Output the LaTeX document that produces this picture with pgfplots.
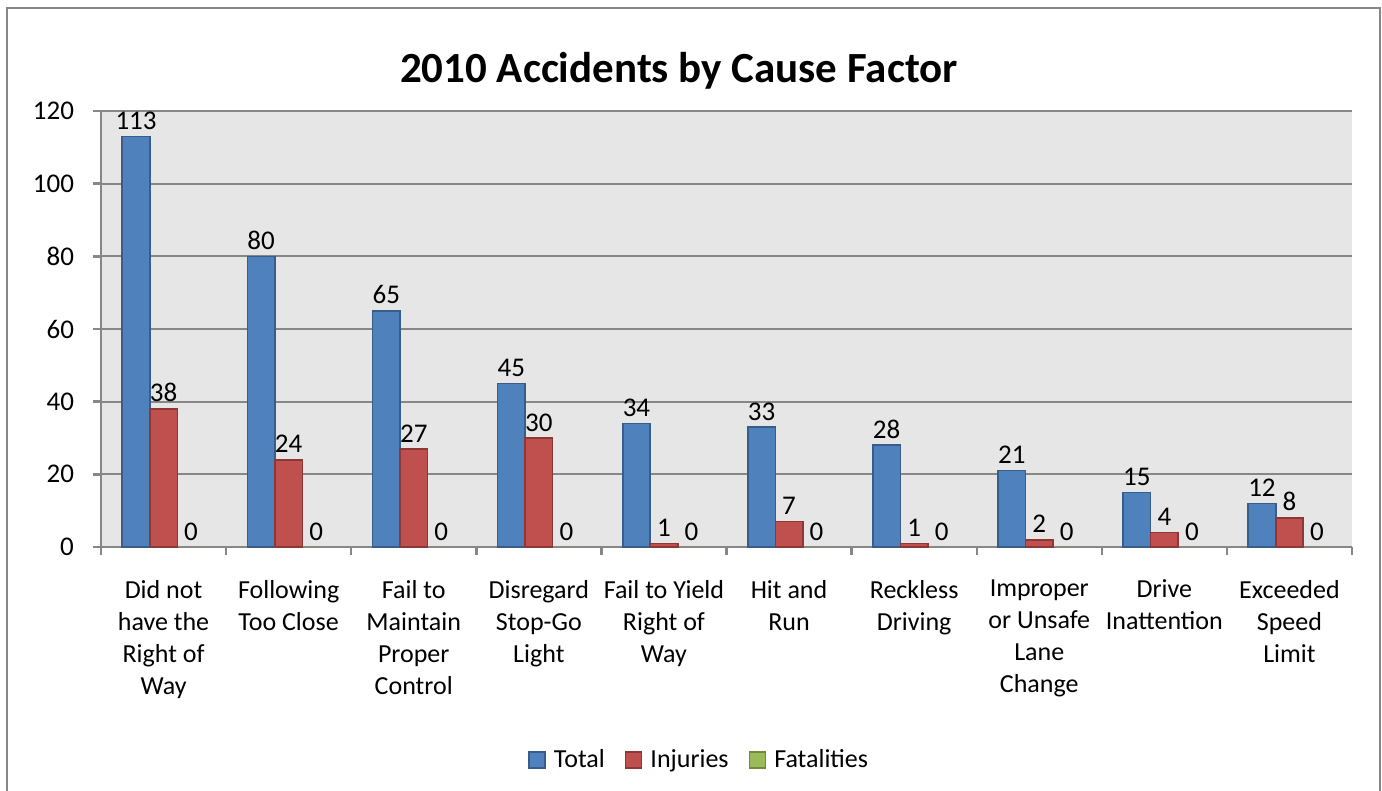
\documentclass[border=0pt]{standalone}
\usepackage{pgfplots}
\pgfplotsset{compat=1.18}
\usepackage{fontspec}
\setmainfont{Carlito}
\definecolor{cBlue}{HTML}{4F81BD}
\definecolor{cBlueD}{HTML}{385D8A}
\definecolor{cRed}{HTML}{C0504D}
\definecolor{cRedD}{HTML}{8C3836}
\definecolor{cGreen}{HTML}{9BBB59}
\definecolor{cGreenD}{HTML}{71893F}
\definecolor{cGrid}{HTML}{878787}
\definecolor{cBack}{HTML}{E6E6E6}
\begin{document}
\begin{tikzpicture}
\useasboundingbox (0,0) rectangle (691pt,395.5pt);
\draw[cGrid, line width=1pt] (3.5pt,0) -- (3.5pt,391.5pt) -- (690pt,391.5pt) -- (690pt,0);
\node[font=\fontsize{21.5}{25}\selectfont\bfseries] at (339.5pt,360pt) {2010 Accidents by Cause Factor};
\begin{axis}[
  at={(50.5pt,122pt)}, anchor=south west,
  width=625.5pt, height=218pt, scale only axis,
  ybar=0pt, bar width=13.75pt,
  xmin=-0.5, xmax=9.5, ymin=0, ymax=120,
  ytick={0,20,...,120},
  xtick={0,...,9},
  minor xtick={-0.5,0.5,...,9.5},
  xticklabels={{Did not\\have the\\Right of\\Way},{Following\\Too Close},{Fail to\\Maintain\\Proper\\Control},{Disregard\\Stop-Go\\Light},{Fail to Yield\\Right of\\Way},{Hit and\\Run},{Reckless\\Driving},{Improper\\or Unsafe\\Lane\\Change},{Drive\\Inattention},{Exceeded\\Speed\\Limit}},
  xticklabel style={align=center, anchor=north, yshift=-9pt, font=\fontsize{13}{16}\selectfont},
  yticklabel style={font=\fontsize{13.5}{16}\selectfont, xshift=-6pt},
  /pgf/number format/assume math mode=true,
  axis background/.style={fill=cBack},
  axis line style={cGrid, line width=1.2pt},
  axis x line*=bottom, axis y line*=left,
  tick align=outside,
  major x tick style={draw=none},
  minor x tick style={cGrid, line width=1.2pt},
  minor tick length=4pt,
  major tick length=4pt,
  y tick style={cGrid, line width=1.2pt},
  ymajorgrids, grid style={cGrid, line width=1pt},
  nodes near coords,
  every node near coord/.append style={font=\fontsize{13.5}{16}\selectfont, black, inner sep=1pt, yshift=2pt},
  legend style={at={(0.479,-0.4885)}, anchor=center, draw=none, fill=none, legend columns=3, font=\fontsize{13}{16}\selectfont, /tikz/every odd column/.append style={column sep=2pt}, /tikz/every even column/.append style={column sep=8pt}},
  legend image code/.code={\draw[#1] (0pt,-4pt) rectangle (8pt,4pt);},
  clip=false,
]
\addplot[fill=cBlue, draw=cBlueD, line width=0.8pt] coordinates {(0,113) (1,80) (2,65) (3,45) (4,34) (5,33) (6,28) (7,21) (8,15) (9,12)};
\addplot[fill=cRed, draw=cRedD, line width=0.8pt] coordinates {(0,38) (1,24) (2,27) (3,30) (4,1) (5,7) (6,1) (7,2) (8,4) (9,8)};
\addplot[fill=cGreen, draw=none, legend image code/.code={\draw[fill=cGreen, draw=cGreenD, line width=0.8pt] (0pt,-4pt) rectangle (8pt,4pt);}] coordinates {(0,0) (1,0) (2,0) (3,0) (4,0) (5,0) (6,0) (7,0) (8,0) (9,0)};
\legend{Total,Injuries,Fatalities}
\end{axis}
\end{tikzpicture}
\end{document}
